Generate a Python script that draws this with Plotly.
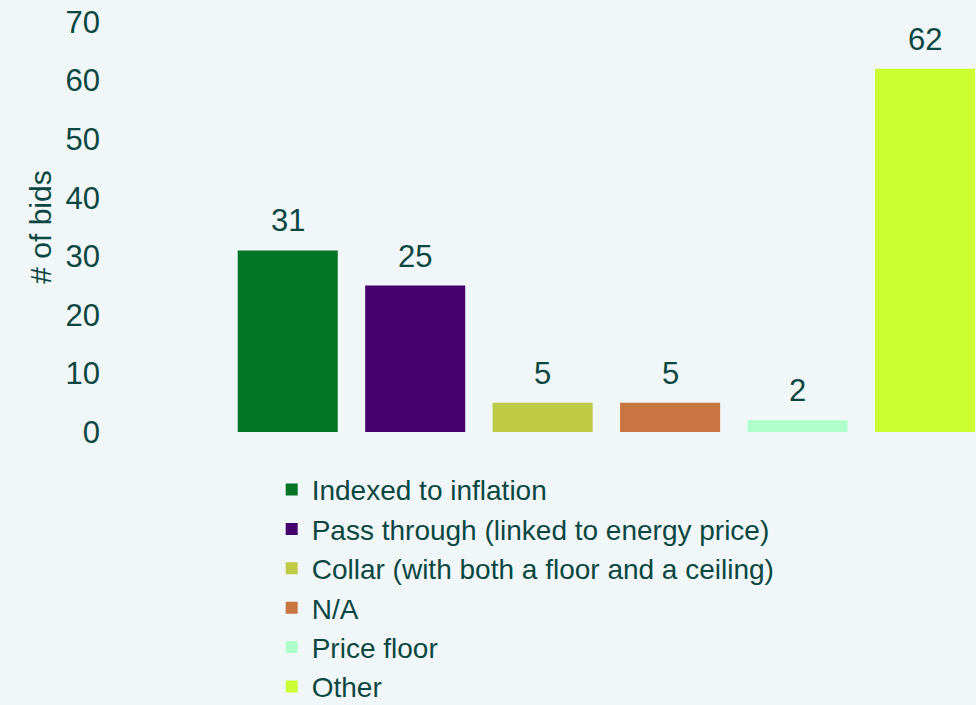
import plotly.graph_objects as go

# data
categories = ["Indexed to inflation", "Pass through (linked to energy price)",
              "Collar (with both a floor and a ceiling)", "N/A", "Price floor", "Other"]
bids = [31, 25, 5, 5, 2, 62]
colors = ["#027527", "#45006E", "#BFCA45", "#C97541", "#AEFFC9", "#CCFF33"]

txt = "#0B4741"
bg = "#F1F7F9"
fig = go.Figure()

for i in range(len(categories)):
    fig.add_trace(go.Bar(
        x=[i], y=[bids[i]],
        name=categories[i],
        marker=dict(color=colors[i], line=dict(width=0)),
        width=0.785,
        cliponaxis=False,
    ))
    # value label above bar
    fig.add_annotation(x=i, y=bids[i], text=str(bids[i]), showarrow=False,
                       yanchor="bottom", yshift=10,
                       font=dict(size=31, color=txt))

fig.update_layout(
    width=976, height=705,
    margin=dict(l=100, r=0, t=22, b=273, autoexpand=False),
    paper_bgcolor=bg, plot_bgcolor=bg,
    font=dict(family="Arial, Liberation Sans, sans-serif", size=31, color=txt),
    barmode="overlay",
    showlegend=True,
    legend=dict(x=0.196, y=-0.08, xanchor="left", yanchor="top",
                bgcolor="rgba(0,0,0,0)", font=dict(size=28, color=txt),
                itemwidth=30, tracegroupgap=0),
    xaxis=dict(domain=[124 / 876, 1], range=[-0.5, 5.4], showticklabels=False,
               showgrid=False, zeroline=False, showline=False, ticks=""),
    yaxis=dict(range=[0, 70], dtick=10, anchor="free", position=0,
               showgrid=False, zeroline=False, showline=False,
               title=dict(text="# of bids", standoff=4, font=dict(size=30, color=txt)),
               tickfont=dict(size=31, color=txt)),
)

fig.write_html("out.html", config={"displayModeBar": False},
               post_script="document.body.style.margin='0';document.body.style.background='%s';" % bg)
